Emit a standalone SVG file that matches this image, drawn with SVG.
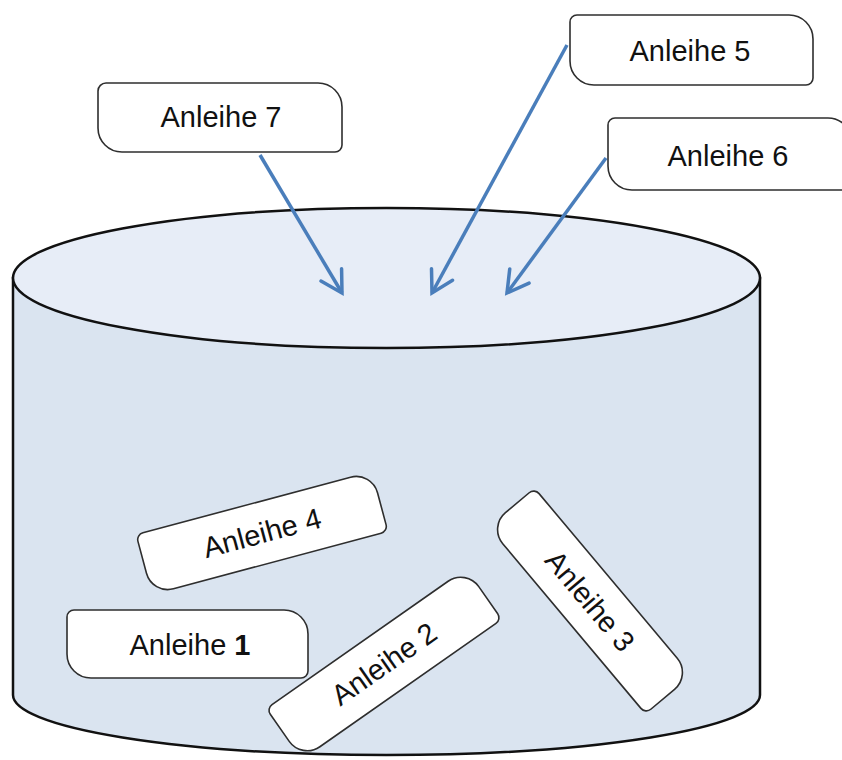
<svg xmlns="http://www.w3.org/2000/svg" width="842" height="760" viewBox="0 0 842 760">
  <defs>
    <style>
      .box { fill: #ffffff; stroke: #2e2e2e; stroke-width: 1.6; }
      .lbl { font-family: "Liberation Sans", Arial, sans-serif; font-size: 29px; fill: #111111; text-anchor: middle; }
      .cyl { stroke: #111111; stroke-width: 2.5; }
      .arrow { stroke: #4a7ebb; stroke-width: 3.5; fill: none; marker-end: url(#head); }
    </style>
    <marker id="head" markerUnits="userSpaceOnUse" markerWidth="40" markerHeight="40" refX="0" refY="0" viewBox="-30 -20 40 40" orient="auto" overflow="visible">
      <path d="M-21,-12 L0,0 L-21,12" fill="none" stroke="#4a7ebb" stroke-width="3.5" stroke-linecap="round" stroke-linejoin="miter"/>
    </marker>
  </defs>
  <rect width="842" height="760" fill="#ffffff"/>

  <g id="cylinder">
    <path class="cyl" d="M13,278 V695 A373.5,60 0 0 0 760,695 V278 Z" fill="#dae4f0"/>
    <ellipse class="cyl" cx="386.5" cy="278" rx="373.5" ry="70" fill="#e7edf7"/>
  </g>

  <g id="connectors">
    <line class="arrow" x1="260" y1="155" x2="342" y2="293"/>
    <line class="arrow" x1="567" y1="45" x2="432" y2="293"/>
    <line class="arrow" x1="606" y1="158" x2="507" y2="293"/>
  </g>

  <g id="anleihe7">
    <path class="box" d="M106,83 H318 A24,24 0 0 1 342,107 V145 A7,7 0 0 1 335,152 H122 A24,24 0 0 1 98,128 V91 A8,8 0 0 1 106,83 Z"/>
    <text class="lbl" x="221" y="127">Anleihe 7</text>
  </g>

  <g id="anleihe5">
    <path class="box" d="M577,15 H789 A24,24 0 0 1 813,39 V78 A7,7 0 0 1 806,85 H594 A24,24 0 0 1 570,61 V22 A7,7 0 0 1 577,15 Z"/>
    <text class="lbl" x="690" y="61">Anleihe 5</text>
  </g>

  <g id="anleihe6">
    <path class="box" d="M615,118 H828 A24,24 0 0 1 852,142 V183 A7,7 0 0 1 845,190 H632 A24,24 0 0 1 608,166 V125 A7,7 0 0 1 615,118 Z"/>
    <text class="lbl" x="728" y="166">Anleihe 6</text>
  </g>

  <g id="anleihe4" transform="translate(262,533) rotate(-15)">
    <path class="box" d="M-115,-31 H100 A22,22 0 0 1 122,-9 V24 A7,7 0 0 1 115,31 H-100 A22,22 0 0 1 -122,9 V-24 A7,7 0 0 1 -115,-31 Z"/>
    <text class="lbl" x="0" y="10">Anleihe 4</text>
  </g>

  <g id="anleihe1">
    <path class="box" d="M74,610 H284 A24,24 0 0 1 308,634 V671 A7,7 0 0 1 301,678 H91 A24,24 0 0 1 67,654 V617 A7,7 0 0 1 74,610 Z"/>
    <text class="lbl" x="190" y="655">Anleihe <tspan font-weight="bold">1</tspan></text>
  </g>

  <g id="anleihe2" transform="translate(384,664) rotate(-35)">
    <path class="box" d="M-115,-31 H100 A22,22 0 0 1 122,-9 V24 A7,7 0 0 1 115,31 H-100 A22,22 0 0 1 -122,9 V-24 A7,7 0 0 1 -115,-31 Z"/>
    <text class="lbl" x="0" y="10">Anleihe 2</text>
  </g>

  <g id="anleihe3" transform="translate(590,601) rotate(50)">
    <path class="box" d="M-115,-30 H100 A22,22 0 0 1 122,-8 V23 A7,7 0 0 1 115,30 H-100 A22,22 0 0 1 -122,8 V-23 A7,7 0 0 1 -115,-30 Z"/>
    <text class="lbl" x="0" y="10">Anleihe 3</text>
  </g>
</svg>
